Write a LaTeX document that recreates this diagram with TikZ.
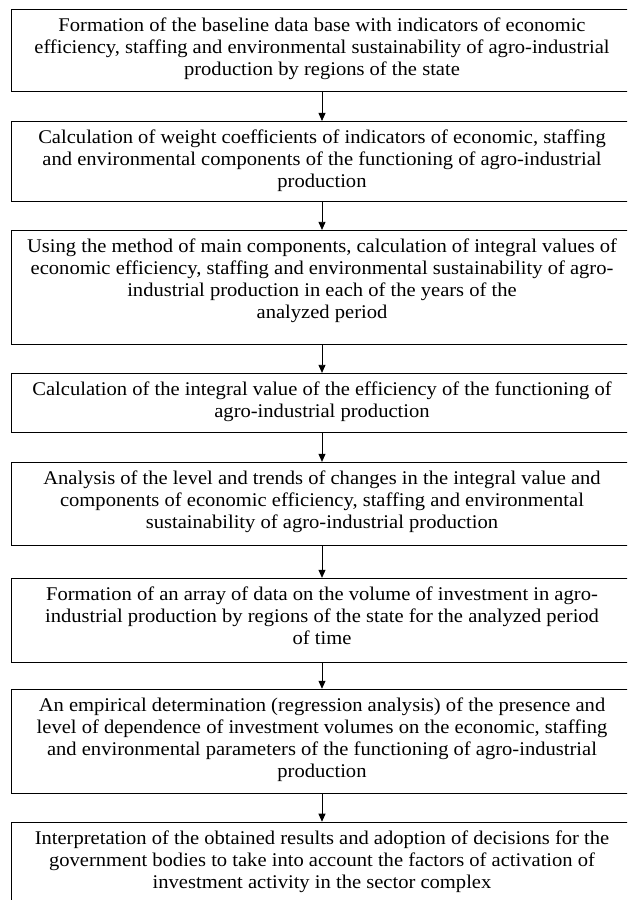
\documentclass[tikz,border=0pt]{standalone}
\usepackage{fontspec}
\setmainfont{Liberation Serif}[FakeStretch=1.06]
\usepackage{tikz}
\usetikzlibrary{arrows.meta, positioning}

\begin{document}
\begin{tikzpicture}[
    x=1pt, y=1pt,
    node distance=28pt,
    box/.style={draw, line width=0.8pt, minimum width=622pt, inner xsep=4pt, inner ysep=8.5pt, align=center,
                font=\fontsize{19.4}{22}\selectfont, execute at end node={\rule[-#1]{0pt}{#1}}},
    box/.default=8pt,
    arrow/.style={-{Triangle[length=8pt, width=7pt]}, line width=0.8pt}
]
    \clip (0,0) rectangle (627,-900);
    \node[box=7.5pt, anchor=north] (base) at (322,-9) {Formation of the baseline data base with indicators of economic\\efficiency, staffing and environmental sustainability of agro-industrial\\production by regions of the state};
    \node[box=5.5pt, below=29pt of base] (weights) {Calculation of weight coefficients of indicators of economic, staffing\\and environmental components of the functioning of agro-industrial\\production};
    \node[box=17.5pt, below=of weights] (integral) {Using the method of main components, calculation of integral values of\\economic efficiency, staffing and environmental sustainability of agro-\\industrial production in each of the years of the\\analyzed period};
    \node[box=6.5pt, below=of integral] (efficiency) {Calculation of the integral value of the efficiency of the functioning of\\agro-industrial production};
    \node[box=8.5pt, below=29pt of efficiency] (analysis) {Analysis of the level and trends of changes in the integral value and\\components of economic efficiency, staffing and environmental\\sustainability of agro-industrial production};
    \node[box=9.5pt, below=32pt of analysis] (invest) {Formation of an array of data on the volume of investment in agro-\\industrial production by regions of the state for the analyzed period\\of time};
    \node[box=7.5pt, below=26pt of invest] (regress) {An empirical determination (regression analysis) of the presence and\\level of dependence of investment volumes on the economic, staffing\\and environmental parameters of the functioning of agro-industrial\\production};
    \node[box=9.5pt, below=of regress] (decide) {Interpretation of the obtained results and adoption of decisions for the\\government bodies to take into account the factors of activation of\\investment activity in the sector complex};

    \draw[arrow] (base) -- (weights);
    \draw[arrow] (weights) -- (integral);
    \draw[arrow] (integral) -- (efficiency);
    \draw[arrow] (efficiency) -- (analysis);
    \draw[arrow] (analysis) -- (invest);
    \draw[arrow] (invest) -- (regress);
    \draw[arrow] (regress) -- (decide);
\end{tikzpicture}
\end{document}
